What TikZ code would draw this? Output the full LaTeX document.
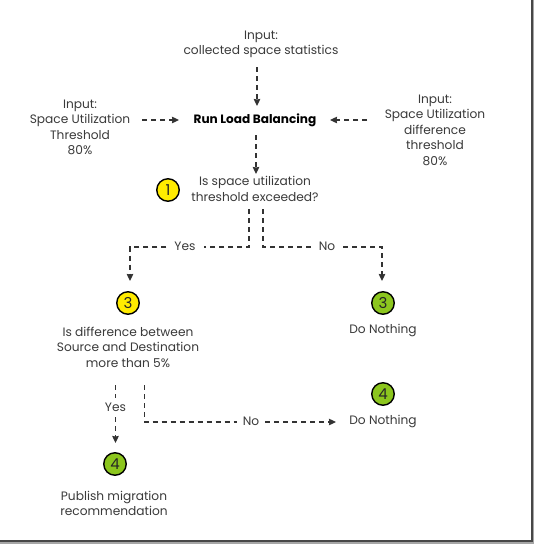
\documentclass[tikz,border=0pt]{standalone}
\usepackage{fontspec}
\setmainfont{Poppins}
\usetikzlibrary{arrows.meta,calc}
\definecolor{txt}{HTML}{3A3A3A}
\definecolor{ylw}{HTML}{FFEB00}
\definecolor{grn}{HTML}{8CC61E}
\tikzset{
  lbl/.style={inner sep=0pt,align=center,text=txt,font=\fontsize{12.2}{15.5}\selectfont},
  lblb/.style={lbl,text=black,font=\fontsize{12.1}{15.5}\selectfont\bfseries},
  conn/.style={draw=black!80,line width=1.2pt,dash pattern=on 5pt off 4pt},
  arr/.style={conn,-{Stealth[length=7pt,width=6.5pt,inset=0.5pt]}},
  badge/.style={circle,draw=black,line width=1.4pt,minimum size=22.5pt,inner sep=0pt,font=\fontsize{15}{15}\selectfont,text=black!85},
  badgey/.style={badge,fill=ylw},
  badgeg/.style={badge,fill=grn}
}
\begin{document}
\begin{tikzpicture}[x=1pt,y=-1pt]
\useasboundingbox (0,0) rectangle (535,544);
\fill[white] (0,0) rectangle (535,544);
% frame
\draw[black!35,line width=1.5pt] (533.6,0) -- (533.6,543.2) -- (0,543.2);
\draw[black!72,line width=2pt] (531.8,0) -- (531.8,541.4) -- (0,541.4);
% nodes
\node[lbl] (top) at (261,44.5) {Input:\\collected space statistics};
\node[lblb] (run) at (255,120) {Run Load Balancing};
\node[lbl] (left) at (80,127.5) {Input:\\Space Utilization\\Threshold\\80\%};
\node[lbl] (right) at (435,130) {Input:\\Space Utilization\\difference\\threshold\\80\%};
\node[lbl] (q1) at (255,189) {Is space utilization\\threshold exceeded?};
\node[badgey] (b1) at (168,190) {1};
\node[lbl] (yes1) at (185,246.5) {Yes};
\node[lbl] (no1) at (327,246.5) {No};
\node[badgey] (b3y) at (128,303) {3};
\node[badgeg] (b3g) at (383,303) {3};
\node[lbl] (q3) at (128,347) {Is difference between\\Source and Destination\\more than 5\%};
\node[lbl] (dn1) at (383,330.5) {Do Nothing};
\node[badgeg] (b4r) at (383,394) {4};
\node[lbl] (dn2) at (383,421.5) {Do Nothing};
\node[lbl] (yes2) at (115.5,407.5) {Yes};
\node[lbl] (no2) at (251,421.5) {No};
\node[badgeg] (b4l) at (115,464) {4};
\node[lbl] (pub) at (114,503.5) {Publish migration\\recommendation};
% named free points
\coordinate (t1) at (257,67);
\coordinate (t2) at (257,106);
\coordinate (r1) at (256,135);
\coordinate (r2) at (256,174);
\coordinate (l1) at (142,120);
\coordinate (l2) at (179,120);
\coordinate (e1) at (367,120);
\coordinate (e2) at (330,120);
\coordinate (y1) at (249,209);
\coordinate (y2) at (249,247);
\coordinate (y3) at (130,247);
\coordinate (y4) at (130,281);
\coordinate (n1) at (263,209);
\coordinate (n2) at (263,247);
\coordinate (n3) at (382,247);
\coordinate (n4) at (382,281);
\coordinate (a1) at (115.5,385);
\coordinate (a2) at (115.5,443);
\coordinate (c1) at (144.5,385);
\coordinate (c2) at (144.5,422);
\coordinate (c3) at (336,422);
% connectors
\draw[arr] (t1) -- (t2);
\draw[arr] (r1) -- (r2);
\draw[arr] (l1) -- (l2);
\draw[arr] (e1) -- (e2);
\draw[conn] (y1) -- (y2) -- ([xshift=8pt]yes1.east |- y2);
\draw[arr] ([xshift=-8pt]yes1.west |- y3) -- (y3) -- (y4);
\draw[conn] (n1) -- (n2) -- ([xshift=-8pt]no1.west |- n2);
\draw[arr] ([xshift=8pt]no1.east |- n3) -- (n3) -- (n4);
\draw[conn] (a1) -- ([yshift=5pt]yes2.north);
\draw[arr] ([yshift=-5pt]yes2.south) -- (a2);
\draw[conn] (c1) -- (c2) -- ([xshift=-6pt]no2.west |- c2);
\draw[arr] ([xshift=6pt]no2.east |- c3) -- (c3);
\end{tikzpicture}
\end{document}
